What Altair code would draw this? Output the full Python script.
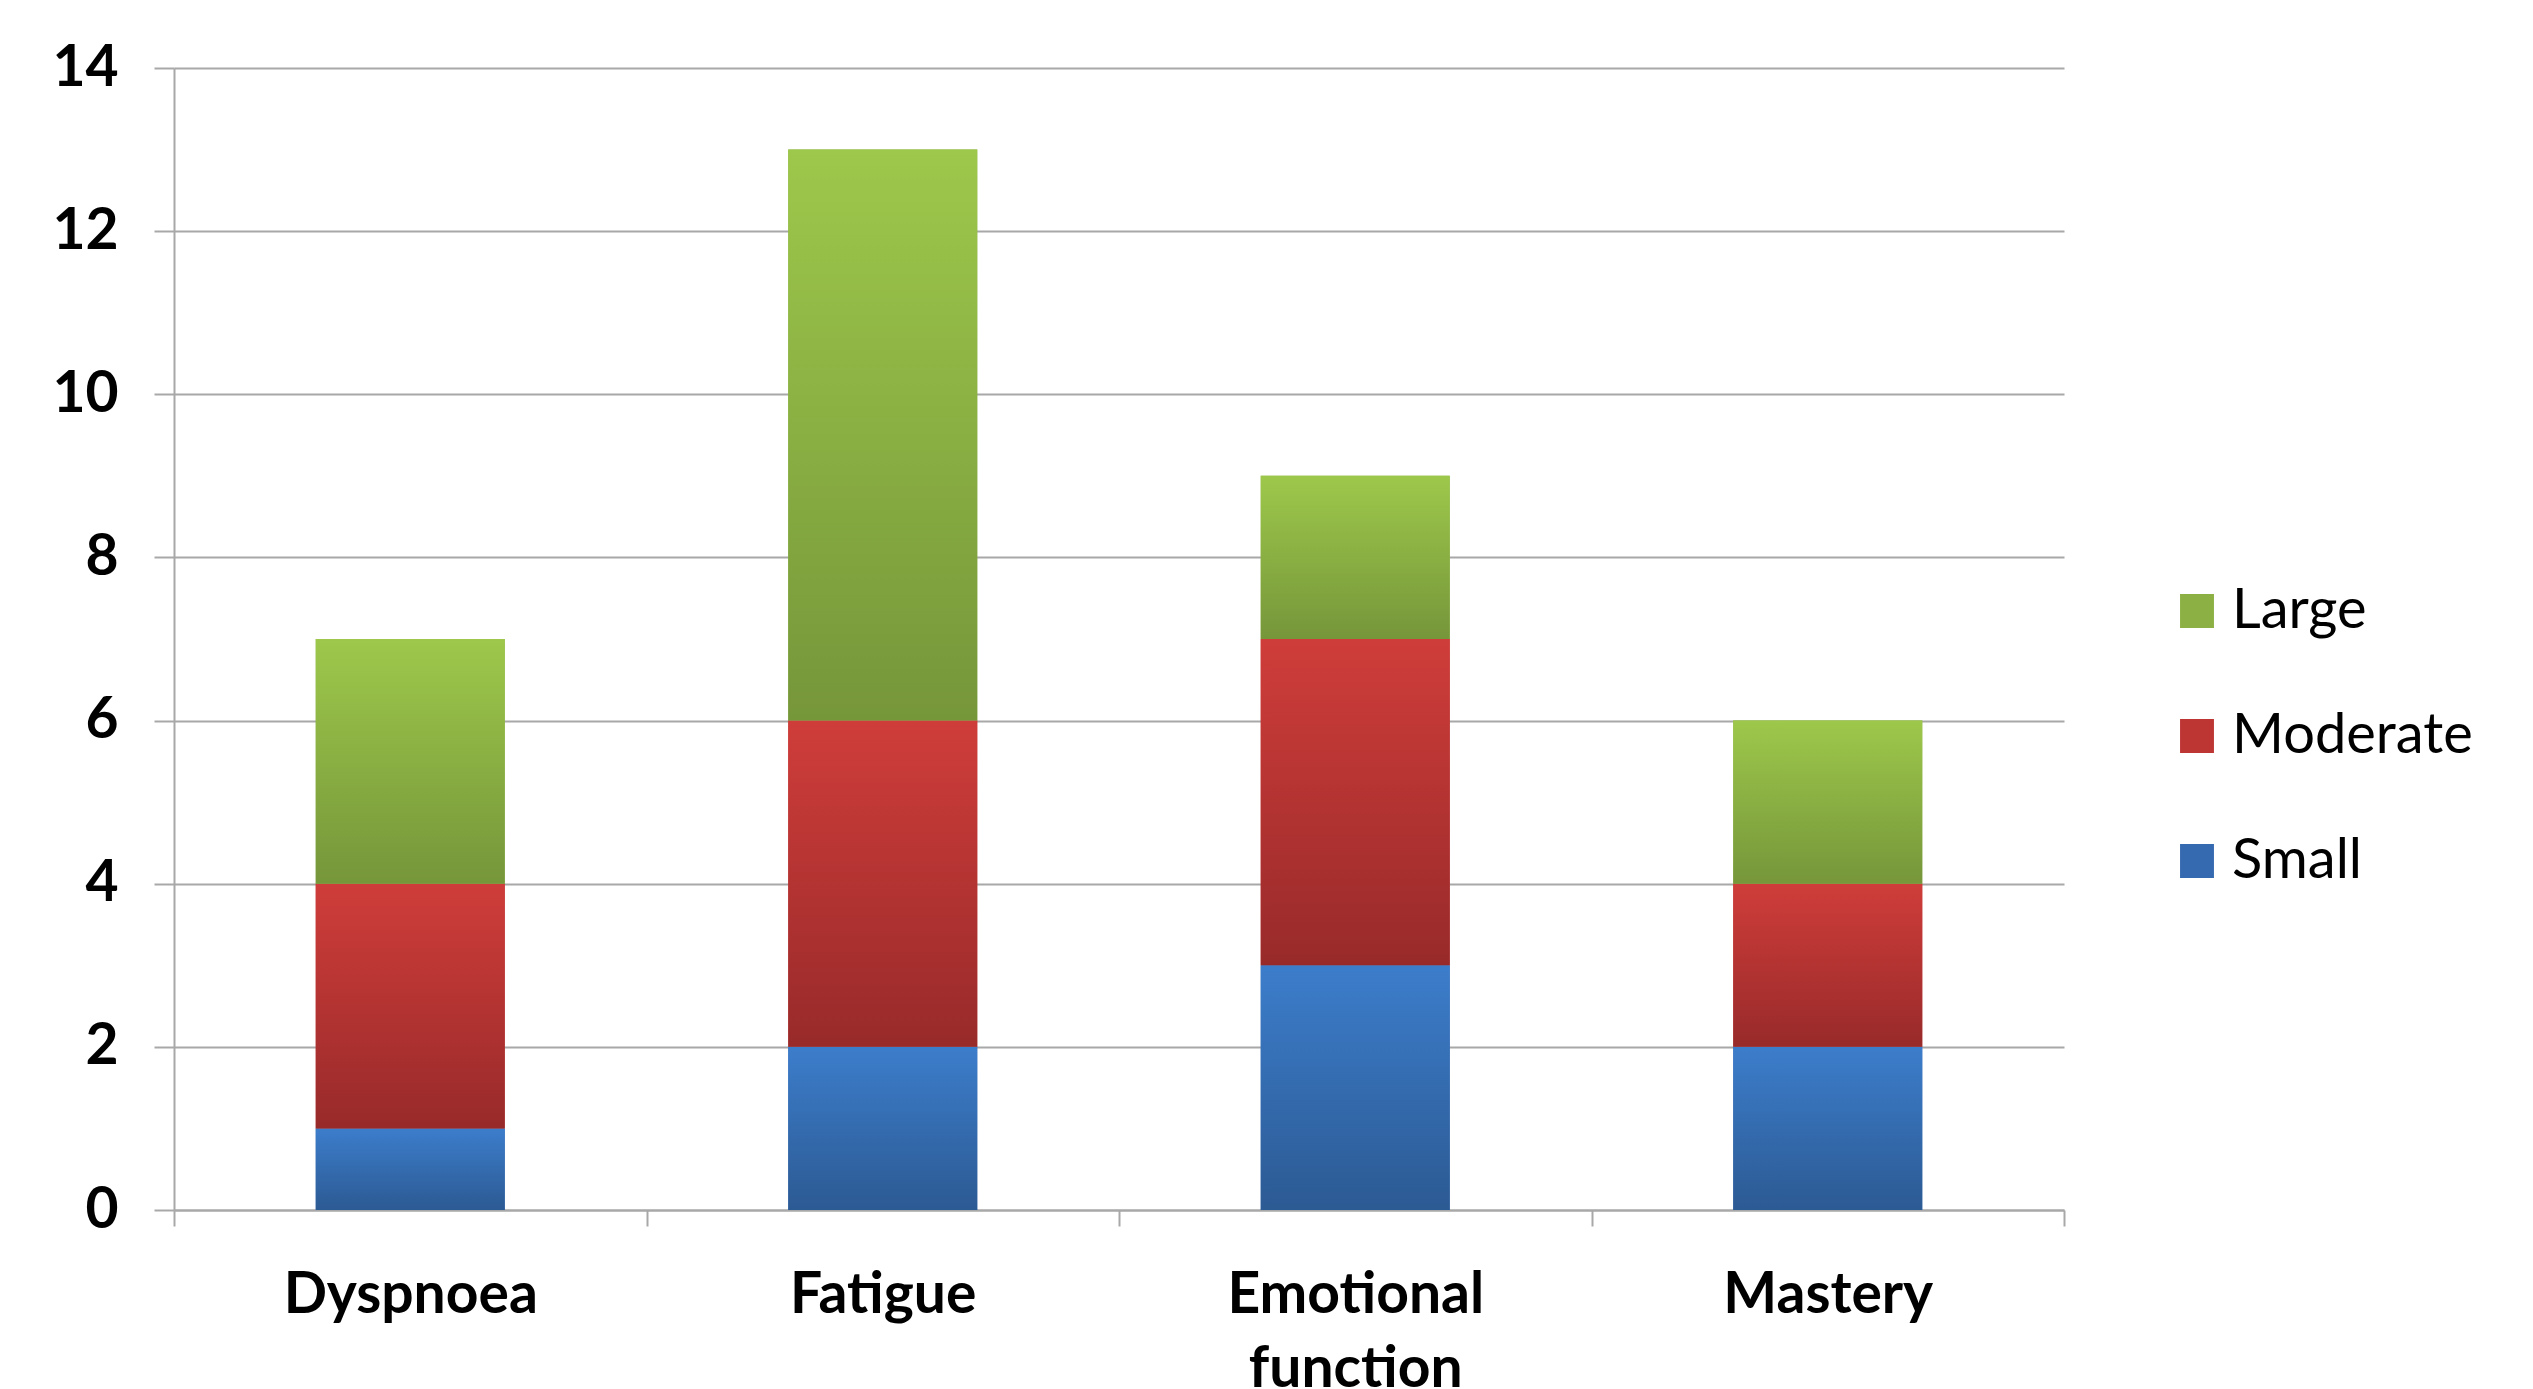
import altair as alt
import pandas as pd

categories = ["Dyspnoea", "Fatigue", "Emotional function", "Mastery"]
series = ["Small", "Moderate", "Large"]
small = [1, 2, 3, 2]
moderate = [3, 4, 4, 2]
large = [3, 7, 2, 2]

legend_order = ["Large", "Moderate", "Small"]
flat_colors = ["#8CB044", "#BE3634", "#3569B0"]
grad_stops = {
    "Small": ("#3C7DCB", "#2C5A93"),
    "Moderate": ("#CF3D3A", "#982A2A"),
    "Large": ("#9DC84B", "#76963A"),
}

rows = []
for i, c in enumerate(categories):
    for k, (s, vals) in enumerate(zip(series, [small, moderate, large])):
        rows.append({"category": c, "series": s, "value": vals[i], "order": k})
df = pd.DataFrame(rows)

FONT = "Lato"
GRID = "#A8A8A8"
BAR_W = {"band": 0.4}

x_enc = alt.X(
    "category:N",
    sort=categories,
    scale=alt.Scale(paddingInner=0, paddingOuter=0),
    axis=alt.Axis(
        title=None,
        labelAngle=0,
        labelFont=FONT,
        labelFontSize=57,
        labelFontWeight="bold",
        labelColor="#000000",
        labelPadding=41,
        labelLineHeight=74,
        labelBaseline="top",
        labelLimit=1000,
        labelExpr="split(datum.label, ' ')",
        tickBand="extent",
        tickSize=16,
        tickColor=GRID,
        tickWidth=2,
        domainColor=GRID,
        domainWidth=2,
        grid=False,
    ),
)
y_enc = alt.Y(
    "y0:Q",
    scale=alt.Scale(domain=[0, 14], nice=False),
    axis=alt.Axis(
        title=None,
        values=[0, 2, 4, 6, 8, 10, 12, 14],
        format="d",
        labelFont=FONT,
        labelFontSize=57,
        labelFontWeight="bold",
        labelColor="#000000",
        labelPadding=36,
        tickSize=20,
        tickColor=GRID,
        tickWidth=2,
        domainColor=GRID,
        domainWidth=2,
        grid=True,
        gridColor=GRID,
        gridWidth=2,
    ),
)

base = alt.Chart(df).transform_stack(
    stack="value", groupby=["category"], as_=["y0", "y1"], sort=[alt.SortField("order")]
)

flat = base.mark_bar(width=BAR_W).encode(
    x=x_enc,
    y=y_enc,
    y2="y1:Q",
    fill=alt.Fill(
        "series:N",
        scale=alt.Scale(domain=legend_order, range=flat_colors),
        legend=alt.Legend(
            title=None,
            orient="none",
            legendX=1995,
            legendY=515,
            symbolType="square",
            symbolSize=1150,
            symbolStrokeWidth=0,
            labelFont=FONT,
            labelFontSize=56,
            labelColor="#000000",
            labelOffset=7,
            rowPadding=69,
            labelLimit=600,
        ),
    ),
)

layers = [flat]
for s in series:
    top, bottom = grad_stops[s]
    g = {
        "gradient": "linear",
        "x1": 0, "x2": 0, "y1": 0, "y2": 1,
        "stops": [{"offset": 0, "color": top}, {"offset": 1, "color": bottom}],
    }
    layers.append(
        base.transform_filter(alt.datum.series == s)
        .mark_bar(fill=g, width=BAR_W)
        .encode(x=alt.X("category:N", sort=categories), y="y0:Q", y2="y1:Q")
    )

chart = (
    alt.layer(*layers)
    .properties(
        width=1890,
        height=1142,
        autosize=alt.AutoSizeParams(type="none"),
        padding={"left": 174, "top": 68, "right": 469, "bottom": 179},
        background="white",
    )
    .configure_view(stroke=None)
)

chart.save("out.html", embed_options={"renderer": "svg", "actions": False})
